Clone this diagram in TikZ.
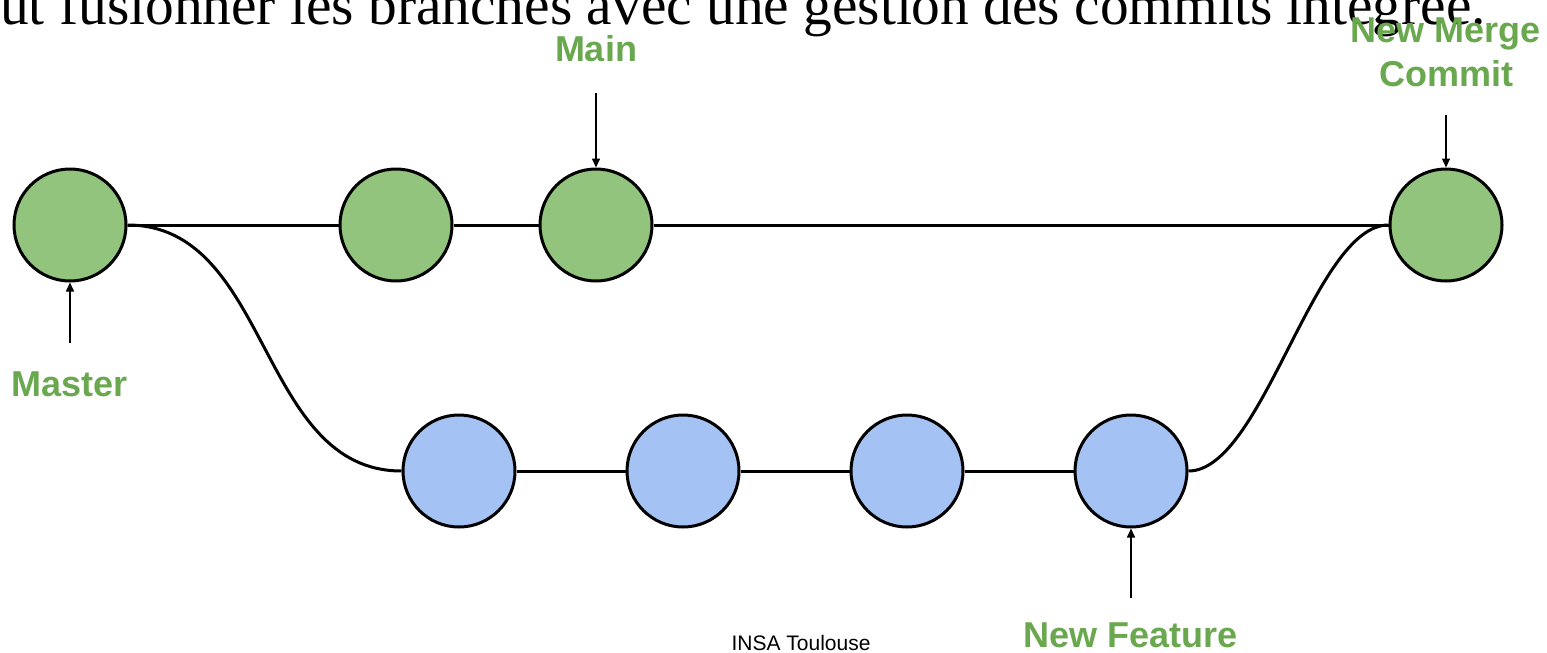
\documentclass[tikz,border=0pt]{standalone}
\usepackage{fontspec}
\setmainfont{Liberation Serif}
\setsansfont{Liberation Sans}
\usetikzlibrary{arrows.meta,positioning}
\definecolor{CommitGreen}{HTML}{93C47D}
\definecolor{FeatureBlue}{HTML}{A4C2F4}
\definecolor{LabelGreen}{HTML}{6AA84F}

\begin{document}
\begin{tikzpicture}[
  x=1pt,y=-1pt,
  node distance=211pt and 109pt,
  commit/.style={circle,draw=black,line width=3pt,minimum size=112pt,inner sep=0pt,fill=CommitGreen},
  feature/.style={commit,fill=FeatureBlue},
  branch/.style={line width=3pt,color=black},
  ptr/.style={-{Triangle[length=9pt,width=8pt]},line width=1.5pt},
  tag/.style={font=\fontsize{36}{44}\selectfont\sffamily\bfseries,text=LabelGreen,align=center,inner sep=0pt}
]
\useasboundingbox (0,0) rectangle (1547,653);
% heading line cut by the page edge
\node[anchor=base west,inner sep=0pt,font=\fontsize{57.4}{62}\selectfont] (title) at (0,24) {ut fusionner les branches avec une gestion des commits intégrée.};
% main branch
\node[commit] (m1) at (70,225) {};
\node[commit,right=211pt of m1] (m2) {};
\node[commit,right=85pt of m2] (m3) {};
\node[commit,right=735pt of m3] (m4) {};
% feature branch
\node[feature] (f1) at (459,471) {};
\node[feature,right=of f1] (f2) {};
\node[feature,right=of f2] (f3) {};
\node[feature,right=of f3] (f4) {};
\draw[branch] (m1) -- (m2);
\draw[branch] (m2) -- (m3);
\draw[branch] (m3) -- (m4);
\draw[branch] (m1.east) to[out=0,in=180] (f1.west);
\draw[branch] (f1) -- (f2);
\draw[branch] (f2) -- (f3);
\draw[branch] (f3) -- (f4);
\draw[branch] (f4.east) to[out=0,in=180,looseness=0.6] (m4.west);
% pointers
\coordinate[above=74.5pt of m3.north] (mainptr);
\node[tag,above=31pt of mainptr] (mainlbl) {Main};
\draw[ptr] (mainptr) -- (m3);
\coordinate[above=52.5pt of m4.north] (mergeptr);
\node[tag,above=28pt of mergeptr] (mergelbl) {New Merge\\Commit};
\draw[ptr] (mergeptr) -- (m4);
\coordinate[below=60pt of m1.south] (masterptr);
\node[tag,below=29pt of masterptr] (masterlbl) {Master};
\draw[ptr] (masterptr) -- (m1);
\coordinate[below=69.5pt of f4.south] (featptr);
\node[tag,below=25pt of featptr] (featlbl) {New Feature};
\draw[ptr] (featptr) -- (f4);
\node[font=\fontsize{21}{25}\selectfont\sffamily] (insa) at (801,643) {INSA Toulouse};
\end{tikzpicture}
\end{document}
